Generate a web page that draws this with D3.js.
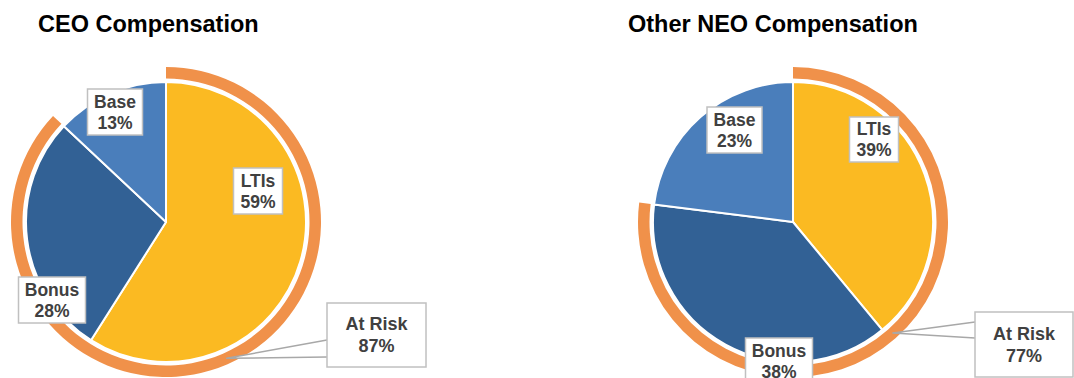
<!DOCTYPE html>
<html>
<head>
<meta charset="utf-8">
<script src="https://cdn.jsdelivr.net/npm/d3@7"></script>
<style>
  html, body { margin: 0; padding: 0; background: #fff; }
  svg { display: block; font-family: "Liberation Sans", Arial, Helvetica, sans-serif; }
</style>
</head>
<body>
<svg id="chart" width="1074" height="378"></svg>
<script>
// Pay mix data
const categories = ["LTIs", "Bonus", "Base"];
const ceoValues = [59, 28, 13];
const neoValues = [39, 38, 23];
const atRiskValues = [87, 77];
const atRiskLabel = "At Risk";
const titles = ["CEO Compensation", "Other NEO Compensation"];

const colors = { LTIs: "#FBBA22", Bonus: "#326195", Base: "#4A7EBB" };
const ringColor = "#F0914A";
const textColor = "#404040";
const boxStroke = "#C0C0C0";

// Layout for each panel: pie centre, title origin, label boxes, callout
const panels = [
  {
    values: ceoValues, atRisk: atRiskValues[0], title: titles[0],
    cx: 166, cy: 222, titleX: 38,
    boxes: {
      Base:  { x: 115, y: 112, w: 55, h: 46 },
      LTIs:  { x: 258, y: 191, w: 49, h: 46 },
      Bonus: { x: 52,  y: 300, w: 67, h: 46 }
    },
    callout: { x: 376.5, y: 335, w: 99, h: 64, tipAngle: 156, y1: 37, y2: 54 }
  },
  {
    values: neoValues, atRisk: atRiskValues[1], title: titles[1],
    cx: 793, cy: 222, titleX: 628,
    boxes: {
      Base:  { x: 734.5, y: 130, w: 55, h: 46 },
      LTIs:  { x: 874,   y: 139.5, w: 49, h: 45 },
      Bonus: { x: 779,   y: 361, w: 67, h: 46 }
    },
    callout: { x: 1024, y: 344.5, w: 98, h: 65, tipAngle: 138, y1: 10, y2: 26 }
  }
];

const R = 140, ringInner = 143.5, ringOuter = 155;
const svg = d3.select("#chart");

const pie = d3.pie().sort(null).value(d => d.value);
const arc = d3.arc().innerRadius(0).outerRadius(R);
const ringArc = d3.arc().innerRadius(ringInner).outerRadius(ringOuter);
const pct = v => v + "%";

function labelBox(g, b, lines, fontSize, lead) {
  g.append("rect")
    .attr("x", b.x - b.w / 2).attr("y", b.y - b.h / 2)
    .attr("width", b.w).attr("height", b.h)
    .attr("fill", "#fff").attr("stroke", boxStroke).attr("stroke-width", 1.5);
  const t = g.append("text")
    .attr("text-anchor", "middle")
    .attr("font-size", fontSize).attr("font-weight", "bold")
    .attr("fill", textColor);
  lines.forEach((s, i) => {
    t.append("tspan").attr("x", b.x)
      .attr("y", b.y - lead / 2 + 6 + i * lead)
      .text(s);
  });
}

panels.forEach(p => {
  const g = svg.append("g");

  g.append("text")
    .attr("x", p.titleX).attr("y", 32)
    .attr("font-size", 23.5).attr("font-weight", "bold")
    .attr("fill", "#000")
    .text(p.title);

  const pg = g.append("g").attr("transform", `translate(${p.cx},${p.cy})`);
  const data = categories.map((c, i) => ({ cat: c, value: p.values[i] }));
  const arcs = pie(data);

  pg.selectAll("path.slice").data(arcs).join("path")
    .attr("class", "slice")
    .attr("d", arc)
    .attr("fill", d => colors[d.data.cat])
    .attr("stroke", "#fff").attr("stroke-width", 2).attr("stroke-linejoin", "round");

  // At-risk ring covering the variable pay
  const riskEnd = p.atRisk / 100 * 2 * Math.PI;
  pg.append("path")
    .attr("d", ringArc({ startAngle: 0, endAngle: riskEnd }))
    .attr("fill", ringColor);

  // Slice labels
  arcs.forEach(a => {
    labelBox(g, p.boxes[a.data.cat], [a.data.cat, pct(a.data.value)], 17.5, 21);
  });

  // At-risk callout wedge pointing to the ring
  const c = p.callout;
  const rMid = (ringInner + ringOuter) / 2;
  const ang = c.tipAngle * Math.PI / 180;
  const tipX = p.cx + rMid * Math.sin(ang), tipY = p.cy - rMid * Math.cos(ang);
  const left = c.x - c.w / 2, top = c.y - c.h / 2;
  g.append("path")
    .attr("d", `M${left},${top + c.y1}L${tipX},${tipY}L${left},${top + c.y2}`)
    .attr("fill", "#fff").attr("stroke", "#A8A8A8").attr("stroke-width", 1.5)
    .attr("stroke-linejoin", "round");
  labelBox(g, c, [atRiskLabel, pct(p.atRisk)], 18, 22);
});
</script>
</body>
</html>
